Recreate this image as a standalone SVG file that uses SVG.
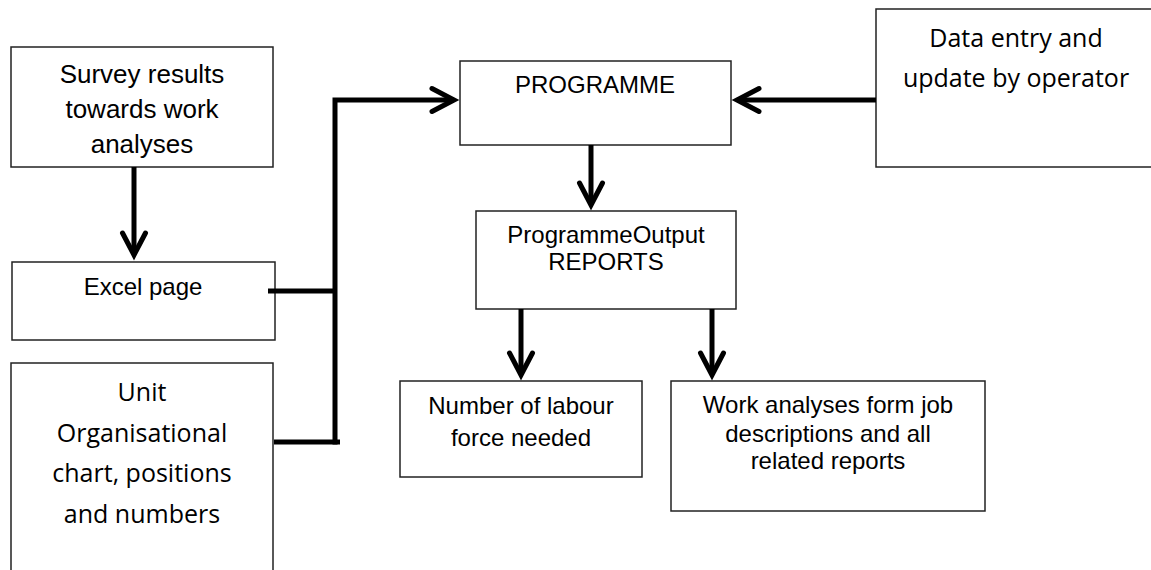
<svg xmlns="http://www.w3.org/2000/svg" width="1151" height="570" viewBox="0 0 1151 570">
<style>
.box{fill:#fff;stroke:#222;stroke-width:1.5}
.a{font-family:"Liberation Sans",Arial,sans-serif;font-size:24px;fill:#000;text-anchor:middle}
.c{font-family:"Open Sans","Noto Sans",sans-serif;font-size:25px;fill:#000;text-anchor:middle}
.ln{fill:none;stroke:#000;stroke-width:5}
</style>
<defs>
<marker id="chev" viewBox="-30 -20 40 40" markerWidth="40" markerHeight="40" refX="0" refY="0" orient="auto" markerUnits="userSpaceOnUse">
<path d="M-22,-11.5 L0,0 L-22,11.5" fill="none" stroke="#000" stroke-width="5" stroke-linecap="round" stroke-linejoin="miter"/>
</marker>
</defs>
<rect width="1151" height="570" fill="#fff"/>
<g id="survey">
<rect class="box" x="11" y="47" width="262" height="120"/>
<text class="a" style="font-size:26px" x="142" y="83">Survey results</text>
<text class="a" style="font-size:26px" x="142" y="118">towards work</text>
<text class="a" style="font-size:26px" x="142" y="153">analyses</text>
</g>
<g id="excel">
<rect class="box" x="12" y="262" width="263" height="78"/>
<text class="a" x="143" y="295">Excel page</text>
</g>
<g id="unit">
<rect class="box" x="11" y="363" width="262" height="230"/>
<text class="c" x="142" y="401">Unit</text>
<text class="c" x="142" y="442">Organisational</text>
<text class="c" x="142" y="482">chart, positions</text>
<text class="c" x="142" y="523">and numbers</text>
</g>
<g id="programme">
<rect class="box" x="460" y="61" width="271" height="84"/>
<text class="a" x="595" y="93">PROGRAMME</text>
</g>
<g id="output">
<rect class="box" x="476" y="211" width="260" height="98"/>
<text class="a" x="606" y="243">ProgrammeOutput</text>
<text class="a" x="606" y="270">REPORTS</text>
</g>
<g id="labour">
<rect class="box" x="400" y="381" width="242" height="96"/>
<text class="a" x="521" y="414">Number of labour</text>
<text class="a" x="521" y="446">force needed</text>
</g>
<g id="work">
<rect class="box" x="671" y="381" width="314" height="130"/>
<text class="a" x="828" y="413">Work analyses form job</text>
<text class="a" x="828" y="442">descriptions and all</text>
<text class="a" x="828" y="469">related reports</text>
</g>
<g id="dataentry">
<rect class="box" x="876" y="9" width="300" height="158"/>
<text class="c" x="1016" y="47">Data entry and</text>
<text class="c" x="1016" y="87">update by operator</text>
</g>
<g id="connectors">
<path class="ln" d="M134,167 V255" marker-end="url(#chev)"/>
<path class="ln" d="M268,291 H335"/>
<path class="ln" d="M274,442 H340"/>
<path class="ln" d="M335,444.5 V100 H454" marker-end="url(#chev)"/>
<path class="ln" d="M876,100 H737" marker-end="url(#chev)"/>
<path class="ln" d="M591,145 V205" marker-end="url(#chev)"/>
<path class="ln" d="M521,309 V375" marker-end="url(#chev)"/>
<path class="ln" d="M712,309 V375" marker-end="url(#chev)"/>
</g>
</svg>
